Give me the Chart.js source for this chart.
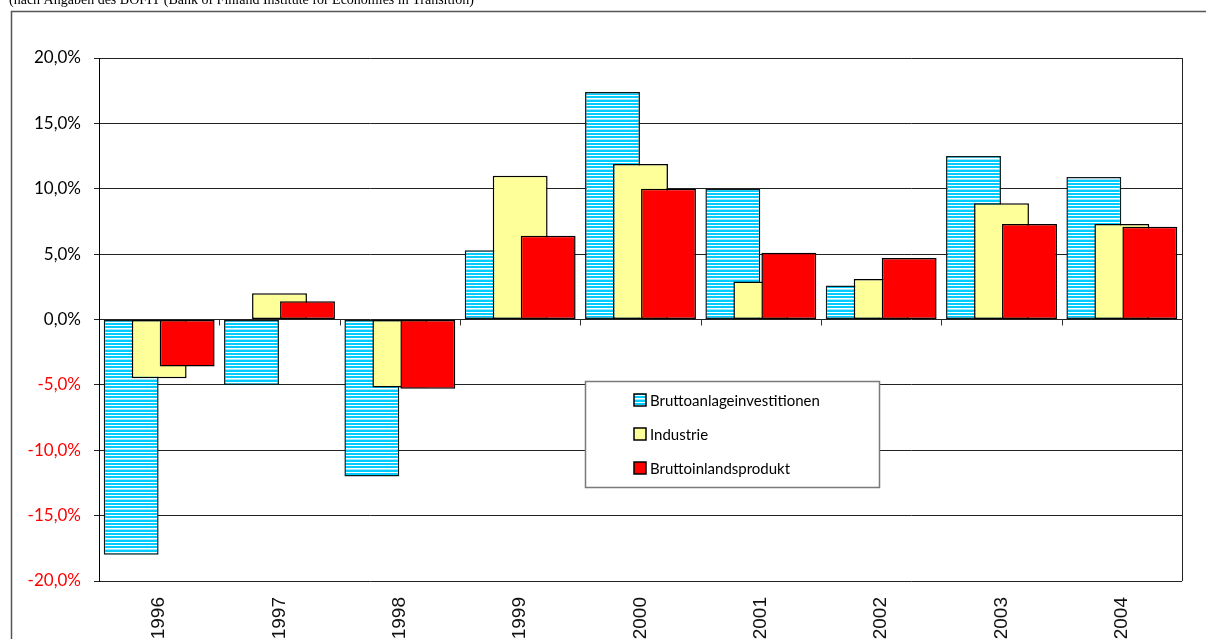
<!DOCTYPE html>
<html><head><meta charset="utf-8">
<script src="https://cdn.jsdelivr.net/npm/chart.js@4/dist/chart.umd.min.js"></script>
<style>html,body{margin:0;padding:0;background:#fff;overflow:hidden}canvas{display:block}</style>
</head><body>
<canvas id="c" width="1206" height="639"></canvas>
<script>
const years = ['1996','1997','1998','1999','2000','2001','2002','2003','2004'];
const bruttoanlageinvestitionen = [-18.0, -5.0, -12.0, 5.3, 17.4, 10.0, 2.6, 12.5, 10.9];
const industrie = [-4.5, 2.0, -5.2, 11.0, 11.9, 2.9, 3.1, 8.9, 7.3];
const bruttoinlandsprodukt = [-3.6, 1.4, -5.3, 6.4, 10.0, 5.1, 4.7, 7.3, 7.1];
const seriesNames = ['Bruttoanlageinvestitionen', 'Industrie', 'Bruttoinlandsprodukt'];
const yMin = -20, yMax = 20, yStep = 5;
const caption = '(nach Angaben des BOFIT (Bank of Finland Institute for Economies in Transition)';

const canvas = document.getElementById('c');
const mainCtx = canvas.getContext('2d');

function stripePattern() {
  const p = document.createElement('canvas');
  p.width = 4; p.height = 10;
  const g = p.getContext('2d');
  g.fillStyle = '#00CCFF'; g.fillRect(0, 0, 4, 10);
  g.fillStyle = '#ffffff';
  [2, 5, 8].forEach(r => g.fillRect(0, r, 4, 1));
  g.fillStyle = '#9fe9ff'; g.fillRect(0, 9, 4, 1);
  return mainCtx.createPattern(p, 'repeat');
}
const blueFill = stripePattern();

const drawInOrder = {
  id: 'drawInOrder',
  beforeDatasetsDraw(chart) {
    const ctx = chart.ctx, a = chart.chartArea;
    ctx.save();
    ctx.beginPath();
    ctx.rect(a.left, a.top - 2, a.right - a.left, a.bottom - a.top + 4);
    ctx.clip();
    for (let i = 0; i < chart.data.datasets.length; i++) {
      const m = chart.getDatasetMeta(i);
      if (m.visible) m.controller.draw();
    }
    ctx.restore();
    return false;
  }
};

const decorations = {
  id: 'decorations',
  beforeDraw(chart) {
    const ctx = chart.ctx;
    ctx.save();
    ctx.fillStyle = '#fff';
    ctx.fillRect(0, 0, chart.width, chart.height);
    ctx.fillStyle = '#000';
    ctx.font = '14px "Liberation Serif"';
    ctx.textBaseline = 'alphabetic';
    ctx.fillText(caption, 9, 4);
    ctx.strokeStyle = '#555';
    ctx.lineWidth = 1.5;
    ctx.beginPath();
    ctx.moveTo(11.5, chart.height + 2);
    ctx.lineTo(11.5, 11.5);
    ctx.lineTo(chart.width + 2, 11.5);
    ctx.stroke();
    ctx.restore();
  },
  afterDraw(chart) {
    const ctx = chart.ctx, a = chart.chartArea;
    const xs = chart.scales.x, ys = chart.scales.y;
    ctx.save();
    ctx.strokeStyle = '#222';
    ctx.lineWidth = 1;
    ctx.beginPath();
    ctx.moveTo(Math.round(a.right) + 0.5, a.top);
    ctx.lineTo(Math.round(a.right) + 0.5, a.bottom);
    ctx.stroke();
    const y0 = ys.getPixelForValue(0);
    ctx.strokeStyle = '#333';
    ctx.beginPath();
    for (let i = 1; i < years.length; i++) {
      const bx = Math.round((xs.getPixelForValue(i - 1) + xs.getPixelForValue(i)) / 2) + 0.5;
      ctx.moveTo(bx, y0);
      ctx.lineTo(bx, y0 + 6);
    }
    ctx.stroke();
    const lx = 585, ly = 381, lw = 294, lh = 106;
    ctx.fillStyle = '#fff';
    ctx.fillRect(lx, ly, lw, lh);
    ctx.strokeStyle = '#7a7a7a';
    ctx.lineWidth = 1.5;
    ctx.strokeRect(lx + 0.5, ly + 0.5, lw, lh);
    ctx.font = '15px Lato';
    ctx.textBaseline = 'middle';
    chart.data.datasets.forEach((ds, i) => {
      const cy = 400 + i * 34;
      ctx.fillStyle = ds.backgroundColor;
      ctx.fillRect(634, cy - 6, 12, 12);
      ctx.strokeStyle = '#000';
      ctx.lineWidth = 1.5;
      ctx.strokeRect(634, cy - 6, 12, 12);
      ctx.fillStyle = '#000';
      ctx.fillText(ds.label, 650, cy + 1);
    });
    ctx.restore();
  }
};

new Chart(canvas, {
  type: 'bar',
  data: {
    labels: years,
    datasets: [
      { label: seriesNames[0], data: bruttoanlageinvestitionen, backgroundColor: blueFill, borderColor: '#0c1c1c', borderWidth: 1.5, borderSkipped: false },
      { label: seriesNames[1], data: industrie, backgroundColor: '#FFFF99', borderColor: '#000', borderWidth: 1.5, borderSkipped: false },
      { label: seriesNames[2], data: bruttoinlandsprodukt, backgroundColor: '#FF0000', borderColor: '#000', borderWidth: 1.5, borderSkipped: false }
    ]
  },
  options: {
    responsive: false,
    animation: false,
    events: [],
    layout: { padding: { top: 58, right: 24, left: 0, bottom: 0 } },
    datasets: { bar: { categoryPercentage: 0.698, barPercentage: 1.96 } },
    plugins: { legend: { display: false }, tooltip: { enabled: false } },
    scales: {
      x: {
        grid: { display: false, drawTicks: false },
        border: { display: false },
        ticks: { minRotation: 90, maxRotation: 90, autoSkip: false, padding: 16, color: '#111', font: { family: 'Liberation Sans', size: 19 } },
        afterFit(s) { s.height = 58; }
      },
      y: {
        min: yMin, max: yMax,
        ticks: {
          stepSize: yStep, padding: 13,
          color: c => (c.tick && c.tick.value < 0) ? '#FF0000' : '#000',
          font: { family: 'Lato', size: 17 },
          callback: v => v.toFixed(1).replace('.', ',') + '%'
        },
        grid: { color: '#222', lineWidth: 1, tickLength: 5 },
        border: { color: '#000', width: 1 },
        afterFit(s) { s.width = 99; }
      }
    }
  },
  plugins: [drawInOrder, decorations]
});
</script>
</body></html>
